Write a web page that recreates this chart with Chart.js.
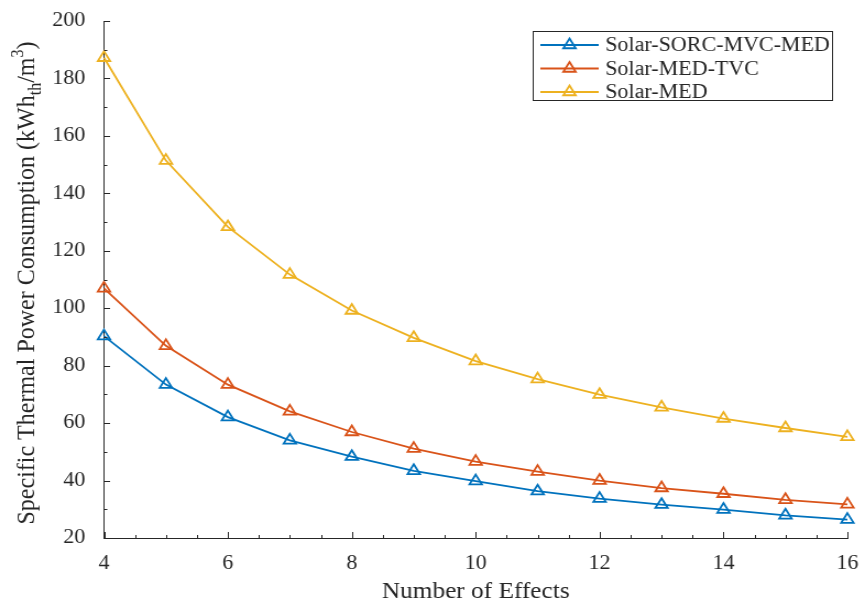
<!DOCTYPE html>
<html>
<head>
<meta charset="utf-8">
<script src="https://cdn.jsdelivr.net/npm/chart.js@4.4.1/dist/chart.umd.min.js"></script>
<style>
  html, body { margin: 0; padding: 0; background: #fff; }
</style>
</head>
<body>
<canvas id="chart" width="786" height="607"></canvas>
<script>
// ---- Data ----
const effects = [4, 5, 6, 7, 8, 9, 10, 11, 12, 13, 14, 15, 16];
const sorcMvcMed = [90.3, 73.4, 62.1, 54.0, 48.3, 43.4, 39.8, 36.3, 33.7, 31.6, 29.9, 27.9, 26.4];
const medTvc = [106.9, 86.9, 73.4, 64.1, 56.9, 51.1, 46.6, 43.1, 40.0, 37.4, 35.4, 33.3, 31.7];
const med = [187.2, 151.4, 128.3, 111.7, 99.2, 89.7, 81.6, 75.3, 69.9, 65.5, 61.6, 58.3, 55.2];

const seriesNames = ['Solar-SORC-MVC-MED', 'Solar-MED-TVC', 'Solar-MED'];
const seriesColors = ['#0072BD', '#D95319', '#EDB120'];

const xTicks = [4, 6, 8, 10, 12, 14, 16];
const yTicks = [20, 40, 60, 80, 100, 120, 140, 160, 180, 200];

const xTitle = 'Number of Effects';
// [text, 0 = normal, -1 = subscript, 1 = superscript]
const yTitle = [
  ['Specific Thermal Power Consumption (kWh', 0],
  ['th', -1],
  ['/m', 0],
  ['3', 1],
  [')', 0]
];

const INK = '#262626';
const FONT = '"Liberation Serif", "Times New Roman", serif';
const NONE = 'rgba(0,0,0,0)';
const LINE_W = 1.8;

const toPoints = (vals) => vals.map((v, i) => ({ x: effects[i], y: v }));

function makeDataset(vals, i) {
  return {
    label: seriesNames[i],
    data: toPoints(vals),
    borderColor: seriesColors[i],
    backgroundColor: NONE,
    borderWidth: LINE_W,
    pointStyle: 'triangle',
    pointRadius: 6.5,
    pointBorderWidth: LINE_W,
    pointBorderColor: seriesColors[i],
    pointBackgroundColor: NONE,
    tension: 0,
    clip: false
  };
}

// ---- Inward ticks, minor ticks, titles and boxed legend ----
const figureDecor = {
  id: 'figureDecor',
  afterDraw(chart) {
    const { ctx, chartArea: a, scales: { x, y } } = chart;
    ctx.save();

    // ticks
    ctx.strokeStyle = INK;
    ctx.lineWidth = 1;
    ctx.beginPath();
    for (let v = x.min; v <= x.max; v += 0.5) {
      const px = Math.round(x.getPixelForValue(v)) + 0.5;
      const len = v % 2 === 0 ? 6 : 3;
      ctx.moveTo(px, a.bottom);
      ctx.lineTo(px, a.bottom - len);
    }
    for (let v = y.min; v <= y.max; v += 10) {
      const py = Math.round(y.getPixelForValue(v)) + 0.5;
      const len = v % 20 === 0 ? 5.5 : 3;
      ctx.moveTo(a.left, py);
      ctx.lineTo(a.left + len, py);
    }
    ctx.stroke();

    // x title
    ctx.fillStyle = INK;
    ctx.font = '23px ' + FONT;
    ctx.textAlign = 'center';
    ctx.textBaseline = 'alphabetic';
    ctx.fillText(xTitle, (a.left + a.right) / 2, 598);

    // y title with sub/superscript, rotated
    const big = '24px ' + FONT;
    const small = '16px ' + FONT;
    let total = 0;
    yTitle.forEach(([t, s]) => {
      ctx.font = s ? small : big;
      total += ctx.measureText(t).width;
    });
    ctx.save();
    ctx.translate(31, 283);
    ctx.rotate(-Math.PI / 2);
    ctx.textAlign = 'left';
    let cx = -total / 2;
    yTitle.forEach(([t, s]) => {
      ctx.font = s ? small : big;
      const dy = s === -1 ? 6 : s === 1 ? -10 : 0;
      ctx.fillText(t, cx, dy);
      cx += ctx.measureText(t).width;
    });
    ctx.restore();

    // legend box
    const box = { x: 484.5, y: 31.5, w: 272, h: 69 };
    ctx.fillStyle = '#fff';
    ctx.fillRect(box.x, box.y, box.w, box.h);
    ctx.strokeStyle = INK;
    ctx.lineWidth = 1;
    ctx.strokeRect(box.x, box.y, box.w, box.h);

    ctx.font = '20px ' + FONT;
    ctx.textAlign = 'left';
    ctx.textBaseline = 'middle';
    chart.data.datasets.forEach((ds, i) => {
      const ly = 45 + i * 23.5;
      ctx.strokeStyle = ds.borderColor;
      ctx.fillStyle = NONE;
      ctx.lineWidth = LINE_W;
      ctx.beginPath();
      ctx.moveTo(491, ly);
      ctx.lineTo(544, ly);
      ctx.stroke();
      Chart.helpers.drawPoint(ctx, {
        pointStyle: 'triangle',
        radius: 6.5,
        borderWidth: LINE_W,
        rotation: 0
      }, 517.5, ly);
      ctx.fillStyle = INK;
      ctx.fillText(ds.label, 550, ly + 1);
    });

    ctx.restore();
  }
};

const tickFont = { family: FONT, size: 20 };

const canvas = document.getElementById('chart');
new Chart(canvas, {
  type: 'line',
  data: {
    datasets: [sorcMvcMed, medTvc, med].map(makeDataset)
  },
  options: {
    responsive: false,
    animation: false,
    devicePixelRatio: 1,
    layout: { padding: { top: 16, right: 15, left: 0, bottom: 0 } },
    plugins: {
      legend: { display: false },
      tooltip: { enabled: false }
    },
    scales: {
      x: {
        type: 'linear',
        min: 4,
        max: 16,
        grid: { display: false },
        border: { display: true, color: INK, width: 1 },
        afterBuildTicks: (s) => { s.ticks = xTicks.map(v => ({ value: v })); },
        afterFit: (s) => { s.height = 69; },
        ticks: { font: tickFont, color: INK, padding: 6, maxRotation: 0 }
      },
      y: {
        type: 'linear',
        min: 20,
        max: 200,
        grid: { display: false },
        border: { display: true, color: INK, width: 1 },
        afterBuildTicks: (s) => { s.ticks = yTicks.map(v => ({ value: v })); },
        afterFit: (s) => { s.width = 94.5; },
        ticks: { font: tickFont, color: INK, padding: 9 }
      }
    }
  },
  plugins: [figureDecor]
});

// the figure is laid out narrow and widened on screen
canvas.style.width = '865px';
canvas.style.height = '607px';
</script>
</body>
</html>
